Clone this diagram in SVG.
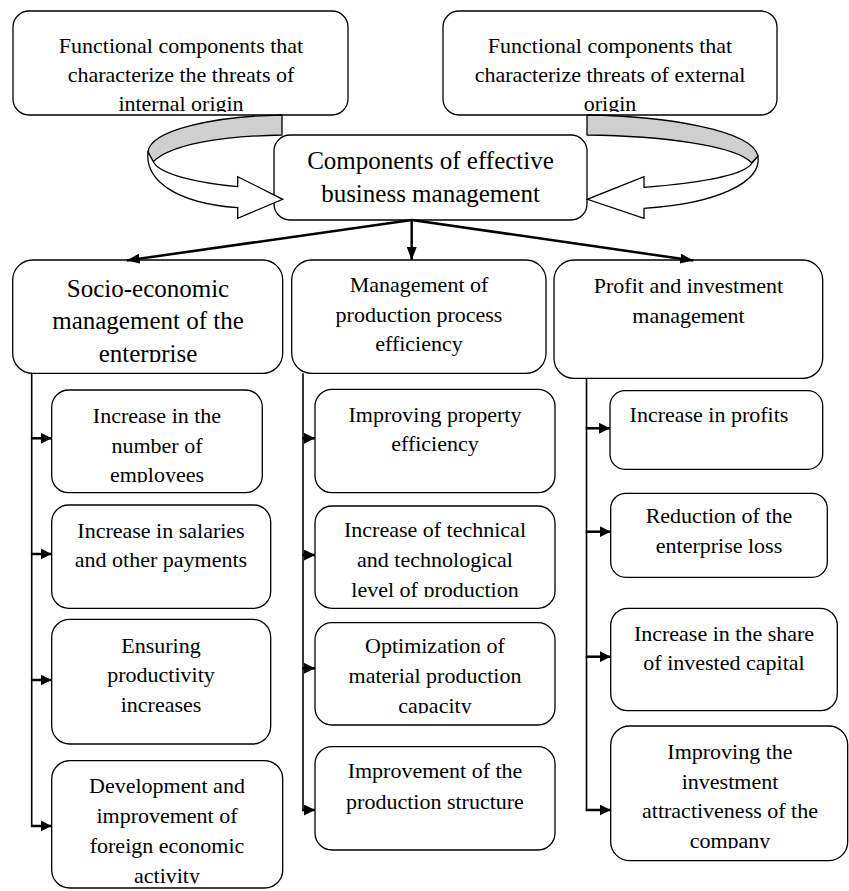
<svg xmlns="http://www.w3.org/2000/svg" width="849" height="891" viewBox="0 0 849 891">
<style>
.box{fill:#fff;stroke:#000;stroke-width:1.3}
.t{font-family:'Liberation Serif','Times New Roman','DejaVu Serif',serif;font-size:22px;text-anchor:middle;fill:#000}
.t25{font-size:25px}
.conn{stroke:#000;stroke-width:2.5;fill:none}
.rail{stroke:#000;stroke-width:1.6;fill:none}
.sub{stroke:#000;stroke-width:2.5;fill:none}
.back{fill:#cfcfcf;stroke:#000;stroke-width:1.3;stroke-linejoin:round}
.front{fill:#fff;stroke:#000;stroke-width:1.3;stroke-linejoin:miter}
</style>
<defs>
<marker id="ah" viewBox="0 0 13 10" refX="13" refY="5" markerWidth="13" markerHeight="10" orient="auto" markerUnits="userSpaceOnUse"><path d="M0,0 L13,5 L0,10 Z" fill="#000"/></marker>
<marker id="ahs" viewBox="0 0 11 11" refX="11" refY="5.5" markerWidth="11" markerHeight="11" orient="auto" markerUnits="userSpaceOnUse"><path d="M0,0 L11,5.5 L0,11 Z" fill="#000"/></marker>
<clipPath id="clInt"><rect x="13" y="11" width="335" height="101"/></clipPath>
<clipPath id="clExt"><rect x="443" y="11" width="334" height="101"/></clipPath>
<clipPath id="clSoc"><rect x="12" y="260" width="271" height="102"/></clipPath>
<clipPath id="clC1"><rect x="51" y="390" width="212" height="92.5"/></clipPath>
<clipPath id="clC4"><rect x="51" y="760" width="232" height="123.5"/></clipPath>
<clipPath id="clM2"><rect x="315" y="506" width="240" height="91"/></clipPath>
<clipPath id="clM3"><rect x="315" y="622" width="240" height="91.5"/></clipPath>
<clipPath id="clR4"><rect x="610" y="726" width="238" height="122.5"/></clipPath>
</defs>

<g id="nodes" font-family="'Liberation Serif', 'Times New Roman', 'DejaVu Serif', serif">
<g id="internal">
<rect class="box" x="13" y="11" width="335" height="104" rx="16"/>
<g clip-path="url(#clInt)"><text class="t" x="181" y="53">Functional components that</text><text class="t" x="181" y="82">characterize the threats of</text><text class="t" x="181" y="111">internal origin</text></g>
</g>
<g id="external">
<rect class="box" x="443" y="11" width="334" height="104" rx="16"/>
<g clip-path="url(#clExt)"><text class="t" x="610" y="53">Functional components that</text><text class="t" x="610" y="82">characterize threats of external</text><text class="t" x="610" y="111">origin</text></g>
</g>
<g id="center">
<rect class="box" x="274" y="135" width="313" height="85" rx="16"/>
<text class="t t25" x="430.5" y="169">Components of effective</text>
<text class="t t25" x="430.5" y="202">business management</text>
</g>
<g id="socio">
<rect class="box" x="12.7" y="260" width="270" height="113.3" rx="20"/>
<g clip-path="url(#clSoc)"><text class="t t25" x="148" y="297">Socio-economic</text><text class="t t25" x="148" y="329">management of the</text><text class="t t25" x="148" y="361.5">enterprise</text></g>
</g>
<g id="production">
<rect class="box" x="291.7" y="260" width="254.3" height="113.3" rx="20"/>
<text class="t" x="419" y="292">Management of</text>
<text class="t" x="419" y="321.5">production process</text>
<text class="t" x="419" y="351">efficiency</text>
</g>
<g id="profit">
<rect class="box" x="554" y="260" width="268.7" height="118.3" rx="20"/>
<text class="t" x="688.5" y="293">Profit and investment</text>
<text class="t" x="688.5" y="323">management</text>
</g>

<g id="employees">
<rect class="box" x="51.7" y="390" width="210.6" height="102.7" rx="17"/>
<g clip-path="url(#clC1)"><text class="t" x="157" y="423.3">Increase in the</text><text class="t" x="157" y="453">number of</text><text class="t" x="157" y="482">employees</text></g>
</g>
<g id="salaries">
<rect class="box" x="51.7" y="505" width="219" height="103.3" rx="17"/>
<text class="t" x="161" y="538.3">Increase in salaries</text>
<text class="t" x="161" y="567.3">and other payments</text>
</g>
<g id="productivity">
<rect class="box" x="51.7" y="619.3" width="219" height="124.7" rx="18"/>
<text class="t" x="161" y="652.5">Ensuring</text>
<text class="t" x="161" y="682">productivity</text>
<text class="t" x="161" y="711.5">increases</text>
</g>
<g id="foreign">
<rect class="box" x="51.7" y="760.7" width="231" height="127.3" rx="18"/>
<g clip-path="url(#clC4)"><text class="t" x="167" y="793.3">Development and</text><text class="t" x="167" y="823">improvement of</text><text class="t" x="167" y="853">foreign economic</text><text class="t" x="167" y="883">activity</text></g>
</g>

<g id="property">
<rect class="box" x="315" y="389.3" width="240" height="103.4" rx="17"/>
<text class="t" x="435" y="421.7">Improving property</text>
<text class="t" x="435" y="450.5">efficiency</text>
</g>
<g id="technical">
<rect class="box" x="315" y="506" width="240" height="102.3" rx="17"/>
<g clip-path="url(#clM2)"><text class="t" x="435" y="537.3">Increase of technical</text><text class="t" x="435" y="567">and technological</text><text class="t" x="435" y="596.5">level of production</text></g>
</g>
<g id="capacity">
<rect class="box" x="315" y="622.7" width="240" height="102.3" rx="17"/>
<g clip-path="url(#clM3)"><text class="t" x="435" y="653.3">Optimization of</text><text class="t" x="435" y="683">material production</text><text class="t" x="435" y="713">capacity</text></g>
</g>
<g id="structure">
<rect class="box" x="315" y="746.7" width="240" height="103.3" rx="17"/>
<text class="t" x="435" y="778.3">Improvement of the</text>
<text class="t" x="435" y="809">production structure</text>
</g>

<g id="profits">
<rect class="box" x="610" y="390.7" width="212.7" height="78.6" rx="15"/>
<text class="t" x="709" y="421.7">Increase in profits</text>
</g>
<g id="loss">
<rect class="box" x="610.7" y="493.3" width="216.6" height="84" rx="15"/>
<text class="t" x="719" y="523.3">Reduction of the</text>
<text class="t" x="719" y="552.7">enterprise loss</text>
</g>
<g id="capital">
<rect class="box" x="610.7" y="608.3" width="226.6" height="102.4" rx="17"/>
<text class="t" x="724" y="640.7">Increase in the share</text>
<text class="t" x="724" y="670">of invested capital</text>
</g>
<g id="attractiveness">
<rect class="box" x="610.7" y="726" width="237" height="134.7" rx="19"/>
<g clip-path="url(#clR4)"><text class="t" x="730" y="759.3">Improving the</text><text class="t" x="730" y="788.5">investment</text><text class="t" x="730" y="818.3">attractiveness of the</text><text class="t" x="730" y="848">company</text></g>
</g>
</g>

<g id="connectors">
<path class="back" d="M282,115 C215,116 150,130 148,152 L153.3,161.7 C170,145 220,136 282,135 Z"/>
<path class="front" d="M148,152 C145,180 175,203 237.7,207.7 L237.7,218.3 L282.7,199.3 L237.7,176.7 L237.7,186.7 C200,183 160,175 153.3,161.7 Z"/>
<path class="back" d="M587,115 C665,116 752,130 758,156 L752,163 C735,145 660,136 587,135 Z"/>
<path class="front" d="M758,156 C762,183 715,204 644,208.3 L644,218.3 L587.3,199.3 L644,176.7 L644,187.3 C700,183 745,175 752,163 Z"/>

<line class="conn" x1="411.7" y1="220" x2="126.7" y2="260.5" marker-end="url(#ah)"/>
<line class="conn" x1="411.7" y1="220" x2="411.7" y2="260" marker-end="url(#ah)"/>
<line class="conn" x1="411.7" y1="220" x2="693.3" y2="260.5" marker-end="url(#ah)"/>

<line class="rail" x1="31.7" y1="373.3" x2="31.7" y2="827"/>
<line class="sub" x1="30.9" y1="438.3" x2="51.7" y2="438.3" marker-end="url(#ahs)"/>
<line class="sub" x1="30.9" y1="554" x2="51.7" y2="554" marker-end="url(#ahs)"/>
<line class="sub" x1="30.9" y1="680" x2="51.7" y2="680" marker-end="url(#ahs)"/>
<line class="sub" x1="30.9" y1="826" x2="51.7" y2="826" marker-end="url(#ahs)"/>

<line class="rail" x1="303" y1="373.3" x2="303" y2="811"/>
<line class="sub" x1="302.2" y1="438.3" x2="315" y2="438.3" marker-end="url(#ahs)"/>
<line class="sub" x1="302.2" y1="555" x2="315" y2="555" marker-end="url(#ahs)"/>
<line class="sub" x1="302.2" y1="668.3" x2="315" y2="668.3" marker-end="url(#ahs)"/>
<line class="sub" x1="302.2" y1="810" x2="315" y2="810" marker-end="url(#ahs)"/>

<line class="rail" x1="586.5" y1="378.3" x2="586.5" y2="811"/>
<line class="sub" x1="585.7" y1="428.3" x2="610" y2="428.3" marker-end="url(#ahs)"/>
<line class="sub" x1="585.7" y1="531.7" x2="610.7" y2="531.7" marker-end="url(#ahs)"/>
<line class="sub" x1="585.7" y1="656.7" x2="610.7" y2="656.7" marker-end="url(#ahs)"/>
<line class="sub" x1="585.7" y1="810" x2="610.7" y2="810" marker-end="url(#ahs)"/>
</g>
</svg>
